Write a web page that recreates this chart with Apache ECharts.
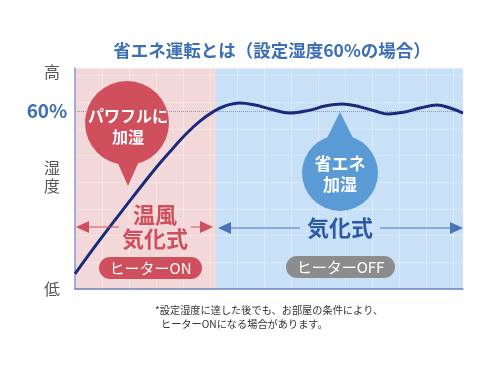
<!DOCTYPE html>
<html>
<head>
<meta charset="utf-8">
<script src="https://cdn.jsdelivr.net/npm/echarts@6/dist/echarts.min.js"></script>
<style>
html,body{margin:0;padding:0;background:#fff;}
#chart{width:490px;height:368px;}
</style>
</head>
<body>
<div id="chart"></div>
<script>
// ---- data ----
var titleText = '省エネ運転とは（設定湿度60%の場合）';
// time (arbitrary units) and humidity (%)
var timeValues = [0, 15, 33, 50, 68, 85, 100, 112, 125, 138, 150, 165, 180, 195, 215, 235, 250, 267, 285, 300, 313, 330, 345, 362, 375, 388];
var humidityValues = [5.1, 12.1, 20.2, 27.6, 35.4, 42.5, 48.2, 52.6, 56.6, 59.7, 61.7, 62.7, 62.0, 60.7, 59.3, 60.3, 61.7, 62.4, 61.4, 60.0, 59.0, 59.7, 61.0, 62.0, 61.0, 59.3];
var setHumidity = 60;
var heaterOnEnd = 141;
var timeMax = 388;
var humidityMax = 74.5;
var yTickValues = [0, 37.8, 60, 73.2];
var yTickLabels = ['低', '湿\n度', '60%', '高'];
var phaseLabels = ['温風\n気化式', '気化式'];
var heaterLabels = ['ヒーターON', 'ヒーターOFF'];
var bubbleLabels = ['パワフルに\n加湿', '省エネ\n加湿'];
var footnote = ['*設定湿度に達した後でも、お部屋の条件により、', 'ヒーターONになる場合があります。'];

var FONT = '"Noto Sans CJK JP", "Noto Sans", sans-serif';
var RED = '#d04f5d';
var BLUE_DROP = '#5a9bd6';
var ARROW_BLUE = '#4a74b8';

var chart = echarts.init(document.getElementById('chart'), null, {renderer: 'canvas'});

var points = timeValues.map(function (t, i) { return [t, humidityValues[i]]; });

function tickLabel(v) {
  var best = 0, d = Infinity;
  for (var i = 0; i < yTickValues.length; i++) {
    var dd = Math.abs(yTickValues[i] - v);
    if (dd < d) { d = dd; best = i; }
  }
  var s = yTickLabels[best];
  return s === '60%' ? '{p|' + s + '}' : '{g|' + s + '}';
}

var option = {
  backgroundColor: '#ffffff',
  animation: false,
  title: {
    text: titleText,
    left: 267, top: 37, textAlign: 'center',
    textStyle: {fontFamily: FONT, fontSize: 17.5, fontWeight: 'bold', color: '#3d6fb6'}
  },
  grid: {left: 75, right: 27, top: 68, bottom: 79},
  xAxis: {
    type: 'value', min: 0, max: timeMax, interval: 27, z: 1.5,
    axisLine: {show: true, lineStyle: {color: '#6a80c0', width: 1.5}},
    axisTick: {show: false}, axisLabel: {show: false},
    splitLine: {show: true, lineStyle: {color: 'rgba(255,255,255,0.33)', width: 1}}
  },
  yAxis: {
    type: 'value', min: 0, max: humidityMax, interval: 9, z: 1.5,
    axisLine: {show: true, lineStyle: {color: '#8196cf', width: 1.5}},
    axisTick: {show: false},
    splitLine: {show: true, lineStyle: {color: 'rgba(255,255,255,0.33)', width: 1}},
    axisLabel: {
      customValues: yTickValues,
      align: 'center', margin: 23,
      formatter: tickLabel,
      rich: {
        p: {fontFamily: FONT, fontSize: 19, fontWeight: 'bold', color: '#3d6fb6', padding: [0, 10, 0, 0]},
        g: {fontFamily: FONT, fontSize: 16, color: '#555555', lineHeight: 18}
      }
    }
  },
  series: [{
    type: 'line',
    data: points,
    smooth: 0.4,
    symbol: 'none',
    z: 3,
    lineStyle: {color: '#1b2a7d', width: 3},
    markArea: {
      silent: true, z: 1,
      data: [
        [{xAxis: 0, itemStyle: {color: '#f3d8da'}}, {xAxis: heaterOnEnd}],
        [{xAxis: heaterOnEnd, itemStyle: {color: '#c8e1f6'}}, {xAxis: timeMax}]
      ]
    },
    markLine: {
      silent: true, symbol: 'none', z: 2,
      label: {show: false},
      lineStyle: {type: 'dotted', color: '#8e9aae', width: 1},
      data: [{yAxis: setHumidity}]
    }
  }],
  graphic: [
    // red bubble
    {type: 'polygon', z: 10, shape: {points: [[112, 150], [144, 150], [128, 186]]}, style: {fill: RED}},
    {type: 'circle', z: 10, shape: {cx: 127, cy: 123, r: 42}, style: {fill: RED}},
    {type: 'text', z: 11, style: {x: 128, y: 126, text: bubbleLabels[0], align: 'center', verticalAlign: 'middle',
      fontFamily: FONT, fontSize: 16, fontWeight: 'bold', lineHeight: 21, fill: '#fff'}},
    // blue drop
    {type: 'polygon', z: 10, shape: {points: [[321, 150], [359, 150], [340, 112]]}, style: {fill: BLUE_DROP}},
    {type: 'circle', z: 10, shape: {cx: 340, cy: 173, r: 38}, style: {fill: BLUE_DROP}},
    {type: 'text', z: 11, style: {x: 340, y: 174, text: bubbleLabels[1], align: 'center', verticalAlign: 'middle',
      fontFamily: FONT, fontSize: 17, fontWeight: 'bold', lineHeight: 21, fill: '#fff'}},
    // red arrows
    {type: 'line', z: 10, shape: {x1: 86, y1: 227, x2: 119, y2: 227}, style: {stroke: RED, lineWidth: 1}},
    {type: 'polygon', z: 10, shape: {points: [[76, 227], [89, 221], [89, 233]]}, style: {fill: RED}},
    {type: 'line', z: 10, shape: {x1: 191, y1: 227, x2: 204, y2: 227}, style: {stroke: RED, lineWidth: 1}},
    {type: 'polygon', z: 10, shape: {points: [[213, 227], [200, 221], [200, 233]]}, style: {fill: RED}},
    {type: 'text', z: 11, style: {x: 155, y: 227, text: phaseLabels[0], align: 'center', verticalAlign: 'middle',
      fontFamily: FONT, fontSize: 22, fontWeight: 'bold', lineHeight: 24, fill: RED}},
    // blue arrows
    {type: 'line', z: 10, shape: {x1: 228, y1: 228, x2: 300, y2: 228}, style: {stroke: ARROW_BLUE, lineWidth: 1}},
    {type: 'polygon', z: 10, shape: {points: [[218, 228], [231, 222], [231, 234]]}, style: {fill: ARROW_BLUE}},
    {type: 'line', z: 10, shape: {x1: 380, y1: 228, x2: 452, y2: 228}, style: {stroke: ARROW_BLUE, lineWidth: 1}},
    {type: 'polygon', z: 10, shape: {points: [[463, 228], [450, 222], [450, 234]]}, style: {fill: ARROW_BLUE}},
    {type: 'text', z: 11, style: {x: 340, y: 228, text: phaseLabels[1], align: 'center', verticalAlign: 'middle',
      fontFamily: FONT, fontSize: 22, fontWeight: 'bold', fill: '#2d5aa5'}},
    // pills
    {type: 'rect', z: 10, shape: {x: 99, y: 257, width: 103, height: 22, r: 11}, style: {fill: RED}},
    {type: 'text', z: 11, style: {x: 150.5, y: 268, text: heaterLabels[0], align: 'center', verticalAlign: 'middle',
      fontFamily: FONT, fontSize: 15, fill: '#fff'}},
    {type: 'rect', z: 10, shape: {x: 286, y: 256, width: 109, height: 22, r: 11}, style: {fill: '#8c8c8c'}},
    {type: 'text', z: 11, style: {x: 340.5, y: 267, text: heaterLabels[1], align: 'center', verticalAlign: 'middle',
      fontFamily: FONT, fontSize: 15, fill: '#fff'}},
    // footnote
    {type: 'text', z: 11, style: {x: 155, y: 310, text: footnote[0], align: 'left', verticalAlign: 'middle',
      fontFamily: FONT, fontSize: 10.2, fill: '#333'}},
    {type: 'text', z: 11, style: {x: 161, y: 324, text: footnote[1], align: 'left', verticalAlign: 'middle',
      fontFamily: FONT, fontSize: 10.2, fill: '#333'}}
  ]
};
chart.setOption(option);
</script>
</body>
</html>
